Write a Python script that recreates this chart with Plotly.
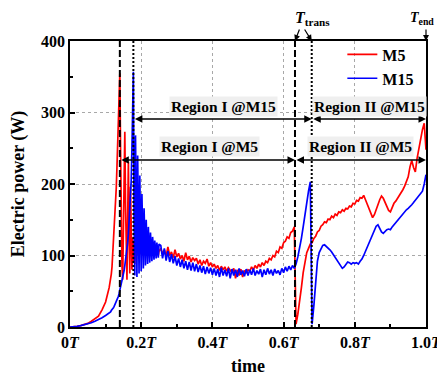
import numpy as np
import plotly.graph_objects as go

# ---------------- data ----------------
# time expressed as fraction of T; three sampling segments
seg_a_start, seg_a_step = 0.0, 0.01
seg_b_start, seg_b_step = 0.110, 0.002
seg_c_start, seg_c_step = 0.255, 0.005

m5_a = [0, 0, 1, 2, 3, 5, 8, 11, 15, 24, 35]
m15_a = [0, 0, 1, 2, 3, 4, 6, 8, 10, 13, 16]

m5_b = [55, 60, 66, 74, 84, 100, 115, 130, 150, 170, 195, 225, 260, 295, 330, 355,
        250, 140, 85, 66, 120, 210, 273, 170, 85, 66, 150, 231, 130, 75, 196, 140,
        80, 125, 90, 118, 88, 110, 95, 114, 100, 112, 98, 116, 102, 110, 113, 100,
        118, 104, 110, 106, 115, 102, 110, 108, 116, 103, 110, 106, 113, 104, 110,
        100, 108, 104, 112, 102, 108, 100, 106]
m15_b = [19, 20, 21, 23, 24, 26, 27, 29, 31, 33, 35, 37, 40, 43, 47, 51, 55, 59,
         63, 68, 73, 79, 86, 93, 100, 108, 118, 130, 145, 162, 180, 205, 250, 310,
         357, 150, 72, 268, 120, 70, 240, 90, 75, 212, 100, 78, 186, 95, 82, 166,
         92, 86, 150, 95, 88, 140, 98, 90, 132, 100, 92, 126, 102, 94, 121, 100,
         96, 118, 102, 97, 116]

m5_c = [110, 102, 108, 99, 112, 100, 105, 97, 108, 98,
        103, 95, 100, 92, 104, 94, 99, 91, 97, 93,
        96, 88, 94, 86, 92, 89, 95, 85, 90, 84,
        88, 82, 86, 79, 85, 80, 84, 78, 83, 79,
        76, 82, 68, 80, 72, 81, 70, 79, 76, 80,
        78, 84, 80, 86, 82, 88, 84, 90, 86, 92,
        90, 96, 94, 100, 98, 106, 104, 112, 110, 118,
        120, 126, 124, 132, 134, 140,
        4, 18, 34, 55, 76, 92, 104, 110, 116, 118,
        124, 127, 133, 135, 141, 143, 147, 146, 151, 150,
        155, 153, 158, 156, 161, 160, 164, 162, 166, 165,
        169, 168, 173, 172, 177, 176, 181, 180, 184, 178,
        172, 164, 158, 153, 157, 163, 171, 178, 183, 180,
        174, 167, 163, 161, 168, 173, 176, 180, 183, 187,
        192, 197, 203, 210, 224, 233, 223, 217, 236, 250,
        263, 276, 285, 248]
m15_c = [114, 96, 110, 93, 106, 91, 102, 89, 99, 86,
         96, 84, 94, 82, 92, 80, 91, 79, 90, 78,
         88, 77, 86, 76, 85, 74, 84, 75, 83, 73,
         82, 72, 81, 70, 83, 72, 80, 71, 82, 68,
         81, 72, 80, 70, 82, 73, 79, 71, 81, 72,
         80, 73, 82, 72, 79, 74, 81, 70, 80, 73,
         82, 74, 80, 72, 81, 75, 79, 73, 82, 76,
         84, 78, 85, 80, 86, 82,
         88, 98, 110, 124, 140, 158, 176, 190, 203, 4,
         30, 68, 92, 104, 110, 114, 115, 113, 111, 108,
         105, 101, 97, 93, 89, 85, 82, 84, 88, 91,
         90, 88, 90, 89, 90, 88, 92, 95, 100, 106,
         112, 118, 124, 130, 136, 141, 143, 138, 133, 131,
         134, 136, 137, 136, 140, 143, 146, 150, 153, 156,
         158, 161, 164, 166, 168, 171, 174, 177, 180, 183,
         186, 190, 200, 213]

# phase boundaries (fraction of T)
t_start_m5, t_start_m15 = 0.140, 0.178
t_trans_m5, t_trans_m15 = 0.632, 0.679
t_end = 1.0
arrow_p_m15, arrow_p_m5 = 291, 233.5

x_tickvals = [0, 0.2, 0.4, 0.6, 0.8, 1.0]
x_ticktext = ["0", "0.2", "0.4", "0.6", "0.8", "1.0"]
y_tickvals = [0, 100, 200, 300, 400]

# ---------------- build series ----------------
def seg_times(start, step, n):
    return np.round(start + step * np.arange(n), 4)

t_m5 = np.concatenate([seg_times(seg_a_start, seg_a_step, len(m5_a)),
                       seg_times(seg_b_start, seg_b_step, len(m5_b)),
                       seg_times(seg_c_start, seg_c_step, len(m5_c))])
p_m5 = m5_a + m5_b + m5_c
t_m15 = np.concatenate([seg_times(seg_a_start, seg_a_step, len(m15_a)),
                        seg_times(seg_b_start, seg_b_step, len(m15_b)),
                        seg_times(seg_c_start, seg_c_step, len(m15_c))])
p_m15 = m15_a + m15_b + m15_c

FONT = "Liberation Serif"
BOLD = dict(family=FONT, color="black", weight="bold")

fig = go.Figure()
fig.add_trace(go.Scatter(x=t_m5, y=p_m5, mode="lines", name="M5",
                         line=dict(color="#ff0000", width=1.7)))
fig.add_trace(go.Scatter(x=t_m15, y=p_m15, mode="lines", name="M15",
                         line=dict(color="#0000ff", width=1.7)))

# vertical phase boundary lines
for tv, dash in [(t_start_m5, "7px,3px"), (t_trans_m5, "7px,3px"),
                 (t_start_m15, "2px,2px"), (t_trans_m15, "2px,2px")]:
    fig.add_shape(type="line", xref="x", yref="y", x0=tv, x1=tv, y0=0, y1=400,
                  line=dict(color="black", width=2, dash=dash))

ann = []
# double-headed region arrows
for (a, b, yv) in [(t_start_m15, t_trans_m15, arrow_p_m15), (t_trans_m15, t_end, arrow_p_m15),
                   (t_start_m5, t_trans_m5, arrow_p_m5), (t_trans_m5, t_end, arrow_p_m5)]:
    ann.append(dict(x=b, y=yv, ax=a, ay=yv, xref="x", yref="y", axref="x", ayref="y",
                    text="", showarrow=True, arrowhead=2, startarrowhead=2,
                    arrowside="end+start", arrowsize=1, startarrowsize=1,
                    arrowwidth=1.5, arrowcolor="black", standoff=0, startstandoff=0))

# region labels
for (txt, xv, yv) in [("Region I @M15", 0.431, 308), ("Region II @M15", 0.84, 308),
                      ("Region I @M5", 0.393, 253), ("Region II @M5", 0.817, 253)]:
    ann.append(dict(x=xv, y=yv, xref="x", yref="y", text=txt, showarrow=False,
                    bgcolor="#efefef", borderpad=1, font=dict(size=15.5, **BOLD)))

# T_trans / T_end markers above the plot (pixel offsets above the top edge)
ann.append(dict(x=0.68, y=1.0, xref="x", yref="paper", yanchor="middle",
                yshift=23, showarrow=False, text="<i>T</i><sub>trans</sub>",
                font=dict(size=16, **BOLD)))
ann.append(dict(x=1.0, y=1.0, xref="paper", yref="paper", xanchor="right",
                yanchor="middle", xshift=10, yshift=23, showarrow=False,
                text="<i>T</i><sub>end</sub>", font=dict(size=14, **BOLD)))
for (tv, dx) in [(t_trans_m5, 5), (t_trans_m15, -8), (t_end, 0)]:
    ann.append(dict(x=tv, y=400, xref="x", yref="y", ax=dx, ay=-13, text="",
                    showarrow=True, arrowhead=2, arrowsize=1, arrowwidth=1.2,
                    arrowcolor="black", standoff=0))

axis_common = dict(showline=True, linecolor="black", linewidth=1.5, mirror=True,
                   ticks="inside", ticklen=5, tickwidth=1.5, tickcolor="black",
                   showgrid=True, gridcolor="#a8a8a8", griddash="dot", gridwidth=1,
                   zeroline=False, automargin=False,
                   tickfont=dict(size=16, **BOLD))

# the page body adds an 8 px offset, so the figure is 8 px smaller and margins shifted
fig.update_layout(
    width=437, height=368,
    margin=dict(l=62, r=19, t=33, b=49, autoexpand=False),
    plot_bgcolor="white", paper_bgcolor="white",
    font=dict(family=FONT, size=16, color="black"),
    showlegend=True,
    legend=dict(x=0.765, y=1.012, xanchor="left", yanchor="top",
                bgcolor="rgba(0,0,0,0)", borderwidth=0,
                font=dict(size=16, **BOLD), tracegroupgap=0),
    annotations=ann,
    xaxis=dict(range=[0, 1], tickvals=x_tickvals,
               ticktext=[s + "<i>T</i>" for s in x_ticktext],
               minor=dict(ticks="inside", ticklen=3, dtick=0.1, tickcolor="black",
                          showgrid=False),
               title=dict(text="time", font=dict(size=18, **BOLD)),
               **axis_common),
    yaxis=dict(range=[0, 400], tickvals=y_tickvals,
               minor=dict(ticks="inside", ticklen=3, dtick=50, tickcolor="black",
                          showgrid=False),
               title=dict(text="Electric power (W)", font=dict(size=18, **BOLD)),
               **axis_common),
)

fig.write_html("out.html")
